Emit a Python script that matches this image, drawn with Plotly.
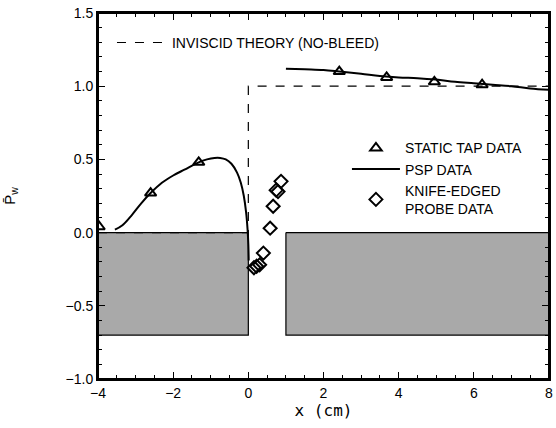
import plotly.graph_objects as go

# Inviscid theory (no-bleed)
theory_x = [-4, 0, 0, 8]
theory_y = [0, 0, 1, 1]

# Static tap data
tap_x = [-3.97, -2.6, -1.32, 2.42, 3.68, 4.95, 6.22]
tap_y = [0.04, 0.27, 0.48, 1.10, 1.06, 1.03, 1.01]

# PSP data (upstream of bleed slot)
psp1_x = [-3.55, -3.35, -3.1, -2.85, -2.6, -2.3, -2.0, -1.7, -1.32, -1.1, -0.9, -0.75,
          -0.6, -0.45, -0.3, -0.2, -0.12, -0.06, -0.02, 0.0, 0.01]
psp1_y = [0.02, 0.05, 0.12, 0.20, 0.27, 0.34, 0.39, 0.43, 0.48, 0.50, 0.51, 0.51,
          0.50, 0.47, 0.41, 0.34, 0.25, 0.14, 0.02, -0.08, -0.19]
# PSP data (downstream of bleed slot)
psp2_x = [1.0, 1.5, 2.0, 2.42, 3.0, 3.5, 4.0, 4.5, 5.0, 5.5, 6.0, 6.5, 7.0, 7.5, 8.0]
psp2_y = [1.12, 1.115, 1.11, 1.10, 1.085, 1.07, 1.06, 1.055, 1.045, 1.03, 1.02, 1.01,
          1.0, 0.985, 0.975]

# Knife-edged probe data
probe_x = [0.87, 0.74, 0.79, 0.66, 0.58, 0.40, 0.30, 0.22, 0.15]
probe_y = [0.35, 0.29, 0.28, 0.18, 0.03, -0.14, -0.22, -0.23, -0.24]

# Wall blocks (upstream / downstream)
wall1_x = [-4, 0, 0, -4, -4]
wall1_y = [0, 0, -0.7, -0.7, 0]
wall2_x = [1, 8, 8, 1, 1]
wall2_y = [0, 0, -0.7, -0.7, 0]

fig = go.Figure()

pattern = dict(shape=".", size=2, solidity=0.5, fgcolor="#2a2a2a", bgcolor="#cccccc")
for wx, wy in [(wall1_x, wall1_y), (wall2_x, wall2_y)]:
    fig.add_trace(go.Scatter(x=wx, y=wy, mode="lines", fill="toself",
                             fillpattern=pattern, fillcolor="#cccccc",
                             line=dict(color="black", width=1.2),
                             showlegend=False, hoverinfo="skip"))

fig.add_trace(go.Scatter(x=theory_x, y=theory_y, mode="lines",
                         line=dict(color="black", width=1.2, dash="dash"),
                         name="INVISCID THEORY (NO-BLEED)", legend="legend2"))

fig.add_trace(go.Scatter(x=tap_x, y=tap_y, mode="markers",
                         marker=dict(symbol="triangle-up-open", size=10, color="black",
                                     line=dict(width=2, color="black")),
                         name="STATIC TAP DATA"))

fig.add_trace(go.Scatter(x=psp1_x, y=psp1_y, mode="lines",
                         line=dict(color="black", width=2, shape="spline"),
                         name="PSP DATA", legendgroup="psp"))
fig.add_trace(go.Scatter(x=psp2_x, y=psp2_y, mode="lines",
                         line=dict(color="black", width=2, shape="spline"),
                         name="PSP DATA", legendgroup="psp", showlegend=False))

fig.add_trace(go.Scatter(x=probe_x, y=probe_y, mode="markers",
                         marker=dict(symbol="diamond-open", size=10, color="black",
                                     line=dict(width=2, color="black")),
                         name="KNIFE-EDGED<br>PROBE DATA"))

axis_common = dict(showline=True, linecolor="black", linewidth=2, mirror="ticks",
                   ticks="inside", tickcolor="black", showgrid=False, zeroline=False,
                   tickfont=dict(family="Liberation Sans, Arial", size=14, color="black"))

fig.update_xaxes(range=[-4, 8], dtick=2, tick0=0, ticklen=7, tickwidth=1.2,
                 minor=dict(dtick=0.5, ticklen=4, ticks="inside", tickcolor="black"),
                 title=dict(text="x (cm)", font=dict(family="DejaVu Sans Mono", size=16, color="black"),
                            standoff=4),
                 **axis_common)
fig.update_yaxes(range=[-1.0, 1.5], dtick=0.5, tick0=0, ticklen=7, tickwidth=1.2,
                 tickformat=".1f",
                 minor=dict(dtick=0.1, ticklen=4, ticks="inside", tickcolor="black"),
                 title=dict(text="P̄<sub>w</sub>", font=dict(family="Liberation Sans, Arial", size=15, color="black"),
                            standoff=46),
                 **axis_common)

# plot frame
fig.add_shape(type="rect", xref="paper", yref="paper", x0=0, y0=0, x1=1, y1=1,
              line=dict(color="black", width=2), layer="above")

fig.update_layout(
    width=556, height=428,
    margin=dict(l=98, r=3, t=13, b=49),
    plot_bgcolor="white", paper_bgcolor="white",
    font=dict(family="Liberation Sans, Arial", size=14, color="black"),
    legend=dict(x=0.552, y=0.674, xanchor="left", yanchor="top",
                bgcolor="rgba(0,0,0,0)", tracegroupgap=0, itemwidth=48,
                font=dict(family="Liberation Sans, Arial", size=14, color="black")),
    legend2=dict(x=0.031, y=0.962, xanchor="left", yanchor="top",
                 bgcolor="rgba(0,0,0,0)", itemwidth=50,
                 font=dict(family="Liberation Sans, Arial", size=14, color="black")),
)

fig.write_html("out.html", config={"displayModeBar": False},
               post_script="document.body.style.margin='0px';")
